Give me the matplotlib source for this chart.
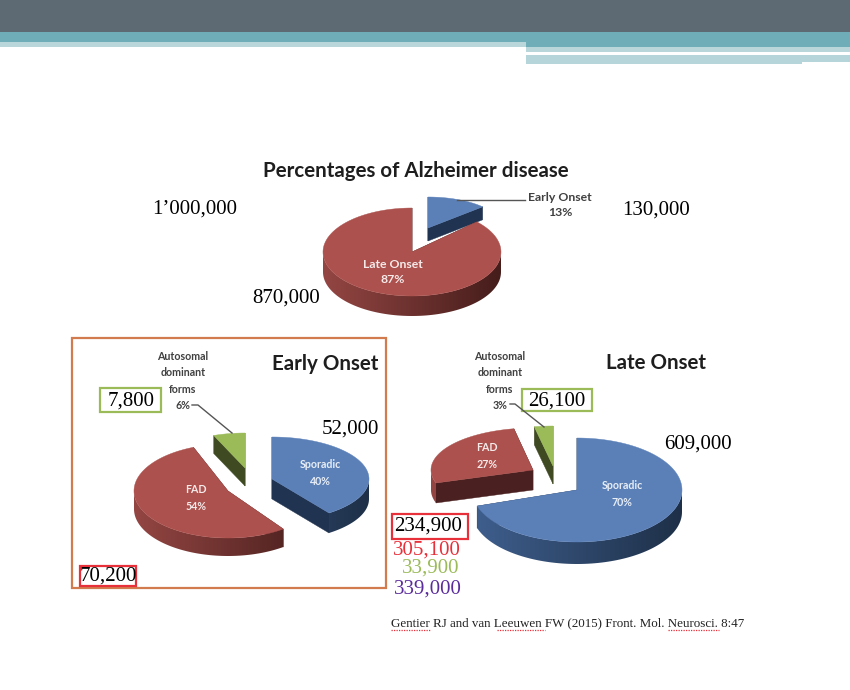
import numpy as np
import matplotlib
matplotlib.use('Agg')
from matplotlib import pyplot as plt
from matplotlib.colors import LinearSegmentedColormap
from matplotlib.patches import Polygon, Rectangle

# values
overview_pct = [13, 87]
early_pct = [40, 54, 6]
late_pct = [70, 27, 3]

overview_labels = ['Early Onset\n13%', 'Late Onset\n87%']
early_labels = ['Sporadic\n40%', 'FAD\n54%', 'Autosomal\ndominant\nforms\n6%']
late_labels = ['Sporadic\n70%', 'FAD\n27%', 'Autosomal\ndominant\nforms\n3%']

title_main = 'Percentages of Alzheimer disease'
title_early = 'Early Onset'
title_late = 'Late Onset'
citation = 'Gentier RJ and van Leeuwen FW (2015) Front. Mol. Neurosci. 8:47'

SERIF = 'Liberation Serif'
SANS = 'Lato'
BLUE = ('#5B80B8', '#3F5F8E', '#1E3048', '#203350')
RED = ('#AC514D', '#944643', '#451D1B', '#4A2120')
GREEN = ('#9BBB59', '#5A6E30', '#3D4A20', '#3F4A22')


def pct_angles(values):
    # slices run clockwise from twelve o'clock
    edges = np.cumsum([0] + list(values)) / sum(values) * 360.0
    return edges[:-1], edges[1:]


def rim(th, cx, cy, rx, ry):
    r = np.radians(th)
    return cx + rx * np.sin(r), cy - ry * np.cos(r)


def wedge(ax, t1, t2, cx, cy, rx, ry, depth, colors, z):
    top, light, dark, cut = colors
    th = np.linspace(t1, t2, 120)
    xs, ys = rim(th, cx, cy, rx, ry)

    # cut faces
    for x, y in [(xs[0], ys[0]), (xs[-1], ys[-1])]:
        ax.add_patch(Polygon([(cx, cy), (x, y), (x, y + depth), (cx, cy + depth)],
                             fc=cut, ec=cut, lw=0.3, zorder=z))

    # outer wall, only the part facing us, shaded left to right
    lo, hi = max(t1, 90), min(t2, 270)
    if hi > lo:
        wx, wy = rim(np.linspace(lo, hi, 90), cx, cy, rx, ry)
        pts = list(zip(wx, wy)) + list(zip(wx[::-1], wy[::-1] + depth))
        clip = Polygon(pts, transform=ax.transData, fc='none', ec='none')
        cmap = LinearSegmentedColormap.from_list('wall', [light, dark])
        im = ax.imshow(np.linspace(0, 1, 256).reshape(1, -1), cmap=cmap, aspect='auto',
                       extent=[cx - rx, cx + rx, cy + ry + depth + 2, cy - ry],
                       interpolation='bilinear', zorder=z + 0.1)
        im.set_clip_path(clip)

    ax.add_patch(Polygon([(cx, cy)] + list(zip(xs, ys)), fc=top, ec=top, lw=0.3, zorder=z + 0.2))


def num(ax, x, y, s, color='black', size=15):
    ax.text(x, y, s, family=SERIF, fontsize=size, color=color, ha='center', va='center', zorder=12)


def lab(ax, x, y, s, color='#404040', size=7.7, spacing=1.6):
    ax.text(x, y, s, family=SANS, fontweight='bold', fontsize=size, color=color,
            ha='center', va='center', linespacing=spacing, zorder=12)


fig = plt.figure(figsize=(8.5, 6.9), dpi=100, facecolor='white')
ax = fig.add_axes([0, 0, 1, 1])

# slide header bands
for x, y, w, h, c in [(0, 0, 850, 32, '#5E6A73'),
                      (0, 32, 850, 15, '#6FADB8'),
                      (0, 42, 526, 5, '#B9D6DB'),
                      (526, 47, 324, 5, '#B9D6DB'),
                      (526, 54.5, 276, 9.5, '#B5D5DB'),
                      (802, 54.5, 48, 7.5, '#B5D5DB')]:
    ax.add_patch(Rectangle((x, y), w, h, fc=c, ec='none', zorder=1))

# overview pie
s, e = pct_angles(overview_pct)
wedge(ax, s[0], e[0], 428, 228, 75, 31, 13, BLUE, 3)
wedge(ax, s[1], e[1], 412, 252, 89, 44, 20, RED, 4)

# early onset pie
s, e = pct_angles(early_pct)
wedge(ax, s[2], e[2], 245, 468, 85, 35, 18, GREEN, 3)
wedge(ax, s[1], e[1], 228, 491, 94, 47, 18, RED, 4)
wedge(ax, s[0], e[0], 272, 479, 97, 42, 20, BLUE, 5)

# late onset pie
s, e = pct_angles(late_pct)
wedge(ax, s[2], e[2], 553, 466, 100, 40, 18, GREEN, 3)
wedge(ax, s[1], e[1], 533, 470, 102, 42, 20, RED, 4)
wedge(ax, s[0], e[0], 577, 490, 105, 52, 22, BLUE, 5)

# imshow moves the limits, so set them after the pies
ax.set_xlim(0, 850)
ax.set_ylim(690, 0)
ax.axis('off')

# titles
for x, y, t in [(416, 171, title_main), (325, 364, title_early), (656, 363, title_late)]:
    ax.text(x, y, t, family=SANS, fontweight='bold', fontsize=14.8, color='#1E1E1E',
            ha='center', va='center', zorder=12)

# slice labels
lab(ax, 560, 205, overview_labels[0], size=8.8, spacing=1.5)
lab(ax, 393, 272, overview_labels[1], color='#F5EAEA', size=8.8, spacing=1.5)
lab(ax, 320, 473, early_labels[0], color='#E8EEF6')
lab(ax, 196, 498, early_labels[1], color='#F5EAEA')
lab(ax, 183, 381, early_labels[2])
lab(ax, 622, 494, late_labels[0], color='#E8EEF6')
lab(ax, 487, 456, late_labels[1], color='#F5EAEA')
lab(ax, 500, 381, late_labels[2])

# leader lines
for px, py in [([457, 525], [200, 200]),
               ([192, 198, 232], [405, 405, 433]),
               ([510, 515, 544], [404, 404, 427])]:
    ax.plot(px, py, color='#555555', lw=1, zorder=11)

# frames
ax.add_patch(Rectangle((72, 338), 314, 250, fc='none', ec='#D27B4E', lw=1.6, zorder=10))
for x, y, w, h, c in [(100, 388, 61, 24, '#9BBB59'), (522, 389, 70, 22, '#9BBB59'),
                      (80, 566, 56, 20, '#E8303A'), (392, 514, 76, 25, '#E8303A')]:
    ax.add_patch(Rectangle((x, y), w, h, fc='none', ec=c, lw=1.6, zorder=10))

# counts
num(ax, 195, 209, '1’000,000')
num(ax, 656, 210, '130,000')
num(ax, 286, 298, '870,000')
num(ax, 131, 401, '7,800')
num(ax, 350, 429, '52,000')
num(ax, 108, 576, '70,200')
num(ax, 557, 401, '26,100')
num(ax, 698, 444, '609,000')
num(ax, 428, 526, '234,900')
num(ax, 427, 550, '305,100', color='#E8303A')
num(ax, 431, 568, '33,900', color='#9BBB59')
num(ax, 428, 589, '339,000', color='#5B2C9C')

# citation with the spell check squiggles
ax.text(391, 623, citation, family=SERIF, fontsize=9.4, color='#222222', ha='left', va='center', zorder=12)
for x0, x1 in [(391, 430), (497, 545), (668, 719)]:
    ax.plot([x0, x1], [630, 630], color='#E8303A', lw=0.9, ls=(0, (1, 1)), zorder=11)

fig.savefig('out.png', dpi=100)
